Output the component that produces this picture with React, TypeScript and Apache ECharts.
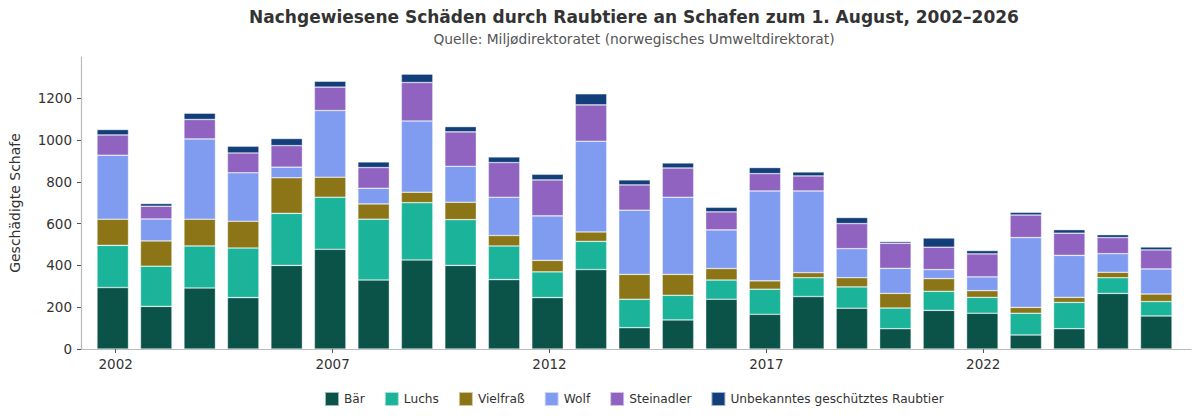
import React, { useEffect, useRef } from "react";
import * as echarts from "echarts";

const years = ["2002", "2003", "2004", "2005", "2006", "2007", "2008", "2009", "2010", "2011", "2012", "2013", "2014", "2015", "2016", "2017", "2018", "2019", "2020", "2021", "2022", "2023", "2024", "2025", "2026"];
const baer = [294, 204, 292, 246, 400, 477, 330, 426, 400, 332, 246, 380, 102, 139, 238, 166, 251, 195, 97, 185, 171, 67, 97, 266, 158];
const luchs = [202, 192, 201, 237, 249, 249, 291, 274, 219, 161, 123, 135, 136, 118, 92, 120, 90, 102, 99, 91, 76, 104, 126, 75, 69];
const vielfrass = [125, 121, 128, 128, 170, 96, 73, 50, 83, 50, 55, 45, 119, 100, 55, 40, 24, 44, 70, 61, 32, 28, 24, 26, 36];
const wolf = [306, 105, 384, 232, 51, 319, 75, 341, 172, 183, 213, 434, 307, 369, 185, 430, 391, 139, 120, 43, 66, 334, 201, 89, 120];
const steinadler = [97, 61, 93, 95, 103, 112, 99, 184, 165, 166, 172, 174, 121, 140, 86, 83, 72, 120, 120, 107, 110, 108, 106, 77, 91];
const unbekannt = [26, 13, 30, 32, 34, 28, 27, 40, 25, 27, 27, 53, 24, 24, 22, 29, 19, 29, 8, 44, 16, 13, 17, 14, 14];

const xTicks = [2002, 2007, 2012, 2017, 2022];
const yTicks = [0, 200, 400, 600, 800, 1000, 1200];

const seriesDefs = [
  { name: "Bär", values: baer, color: "#0b5349" },
  { name: "Luchs", values: luchs, color: "#1bb49a" },
  { name: "Vielfraß", values: vielfrass, color: "#8b7516" },
  { name: "Wolf", values: wolf, color: "#7f9cf0" },
  { name: "Steinadler", values: steinadler, color: "#8f63bf" },
  { name: "Unbekanntes geschütztes Raubtier", values: unbekannt, color: "#123f7a" },
];

const FONT = "DejaVu Sans";
const Y_MAX = 1397;

export default function App() {
  const ref = useRef<HTMLDivElement>(null);
  useEffect(() => {
    document.body.style.margin = "0";
    if (!ref.current) return;
    const chart = echarts.init(ref.current, undefined, { renderer: "svg" });
    chart.setOption({
      animation: false,
      textStyle: { fontFamily: FONT },
      grid: [
        { left: 78, right: 9, top: 57, bottom: 71 },
        { left: 91, right: 22, top: 57, bottom: 71 },
      ],
      graphic: [
        {
          type: "text",
          x: 634,
          y: 17,
          style: {
            text: "Nachgewiesene Schäden durch Raubtiere an Schafen zum 1. August, 2002–2026",
            font: `bold 17px '${FONT}'`,
            fill: "#333333",
            align: "center",
            verticalAlign: "middle",
          },
        },
        {
          type: "text",
          x: 634,
          y: 39,
          style: {
            text: "Quelle: Miljødirektoratet (norwegisches Umweltdirektorat)",
            font: `13.8px '${FONT}'`,
            fill: "#555555",
            align: "center",
            verticalAlign: "middle",
          },
        },
      ],
      legend: {
        left: 319,
        top: 386,
        itemWidth: 14,
        itemHeight: 14,
        itemGap: 19,
        icon: "rect",
        textStyle: { fontFamily: FONT, fontSize: 12.2, color: "#333333" },
        data: seriesDefs.map((s) => s.name),
      },
      xAxis: [
        {
          type: "value",
          gridIndex: 0,
          min: 2001.2,
          max: 2026.79,
          splitLine: { show: false },
          axisLine: { show: true, lineStyle: { color: "#bbbbbb", width: 1.2 } },
          axisTick: { show: true, customValues: xTicks, length: 4, lineStyle: { color: "#555555" } },
          axisLabel: {
            customValues: xTicks,
            color: "#333333",
            fontSize: 13.5,
            fontFamily: FONT,
            margin: 8,
            formatter: (v: number) => String(v),
          },
        },
        {
          type: "category",
          gridIndex: 1,
          data: years,
          boundaryGap: true,
          show: false,
        },
      ],
      yAxis: [
        {
          type: "value",
          gridIndex: 0,
          min: 0,
          max: Y_MAX,
          name: "Geschädigte Schafe",
          nameLocation: "middle",
          nameGap: 59,
          nameRotate: 90,
          nameTextStyle: { fontFamily: FONT, fontSize: 14, color: "#333333" },
          splitLine: { show: false },
          axisLine: { show: true, lineStyle: { color: "#bbbbbb", width: 1.2 } },
          axisTick: { show: true, customValues: yTicks, length: 4, lineStyle: { color: "#555555" } },
          axisLabel: {
            customValues: yTicks,
            color: "#333333",
            fontSize: 13.5,
            fontFamily: FONT,
            margin: 9,
            formatter: (v: number) => String(v),
          },
        },
        {
          type: "value",
          gridIndex: 1,
          min: 0,
          max: Y_MAX,
          show: false,
          splitLine: { show: false },
        },
      ],
      series: seriesDefs.map((s) => ({
        name: s.name,
        type: "bar",
        stack: "total",
        xAxisIndex: 1,
        yAxisIndex: 1,
        barWidth: 31.5,
        itemStyle: { color: s.color, borderColor: "rgba(255,255,255,0.6)", borderWidth: 0.6 },
        data: s.values,
      })),
    });
    return () => chart.dispose();
  }, []);
  return <div ref={ref} style={{ width: 1200, height: 420 }} />;
}
